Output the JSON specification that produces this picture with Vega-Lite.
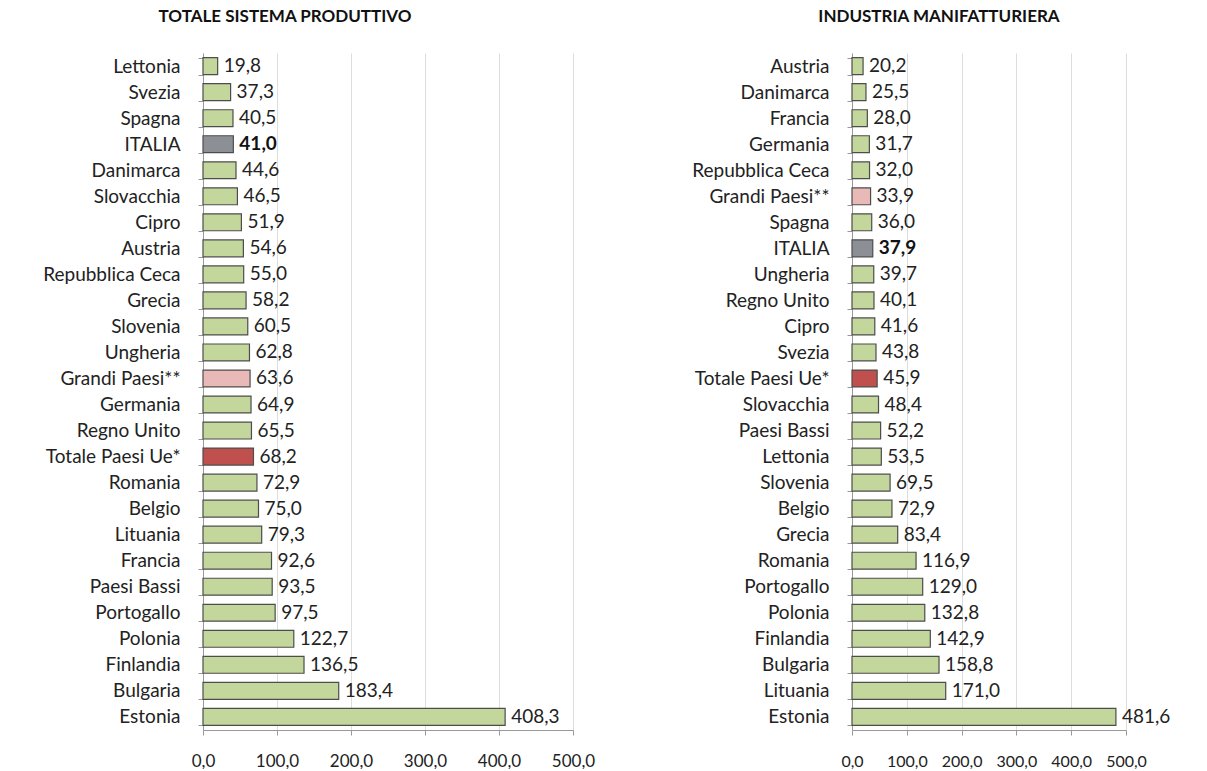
{
  "$schema": "https://vega.github.io/schema/vega-lite/v6.json",
  "background": "white",
  "padding": {"left": 8, "top": 8, "right": 5, "bottom": 0},
  "config": {
    "locale": {"number": {"decimal": ",", "thousands": ".", "grouping": [3], "currency": ["€", ""]}},
    "font": "Lato",
    "view": {"stroke": null},
    "concat": {"spacing": 62}
  },
  "datasets": {
    "tot": [
      {"paese": "Lettonia", "v": 19.8, "tipo": "paese"},
      {"paese": "Svezia", "v": 37.3, "tipo": "paese"},
      {"paese": "Spagna", "v": 40.5, "tipo": "paese"},
      {"paese": "ITALIA", "v": 41.0, "tipo": "italia"},
      {"paese": "Danimarca", "v": 44.6, "tipo": "paese"},
      {"paese": "Slovacchia", "v": 46.5, "tipo": "paese"},
      {"paese": "Cipro", "v": 51.9, "tipo": "paese"},
      {"paese": "Austria", "v": 54.6, "tipo": "paese"},
      {"paese": "Repubblica Ceca", "v": 55.0, "tipo": "paese"},
      {"paese": "Grecia", "v": 58.2, "tipo": "paese"},
      {"paese": "Slovenia", "v": 60.5, "tipo": "paese"},
      {"paese": "Ungheria", "v": 62.8, "tipo": "paese"},
      {"paese": "Grandi Paesi**", "v": 63.6, "tipo": "grandi"},
      {"paese": "Germania", "v": 64.9, "tipo": "paese"},
      {"paese": "Regno Unito", "v": 65.5, "tipo": "paese"},
      {"paese": "Totale Paesi Ue*", "v": 68.2, "tipo": "ue"},
      {"paese": "Romania", "v": 72.9, "tipo": "paese"},
      {"paese": "Belgio", "v": 75.0, "tipo": "paese"},
      {"paese": "Lituania", "v": 79.3, "tipo": "paese"},
      {"paese": "Francia", "v": 92.6, "tipo": "paese"},
      {"paese": "Paesi Bassi", "v": 93.5, "tipo": "paese"},
      {"paese": "Portogallo", "v": 97.5, "tipo": "paese"},
      {"paese": "Polonia", "v": 122.7, "tipo": "paese"},
      {"paese": "Finlandia", "v": 136.5, "tipo": "paese"},
      {"paese": "Bulgaria", "v": 183.4, "tipo": "paese"},
      {"paese": "Estonia", "v": 408.3, "tipo": "paese"}
    ],
    "man": [
      {"paese": "Austria", "v": 20.2, "tipo": "paese"},
      {"paese": "Danimarca", "v": 25.5, "tipo": "paese"},
      {"paese": "Francia", "v": 28.0, "tipo": "paese"},
      {"paese": "Germania", "v": 31.7, "tipo": "paese"},
      {"paese": "Repubblica Ceca", "v": 32.0, "tipo": "paese"},
      {"paese": "Grandi Paesi**", "v": 33.9, "tipo": "grandi"},
      {"paese": "Spagna", "v": 36.0, "tipo": "paese"},
      {"paese": "ITALIA", "v": 37.9, "tipo": "italia"},
      {"paese": "Ungheria", "v": 39.7, "tipo": "paese"},
      {"paese": "Regno Unito", "v": 40.1, "tipo": "paese"},
      {"paese": "Cipro", "v": 41.6, "tipo": "paese"},
      {"paese": "Svezia", "v": 43.8, "tipo": "paese"},
      {"paese": "Totale Paesi Ue*", "v": 45.9, "tipo": "ue"},
      {"paese": "Slovacchia", "v": 48.4, "tipo": "paese"},
      {"paese": "Paesi Bassi", "v": 52.2, "tipo": "paese"},
      {"paese": "Lettonia", "v": 53.5, "tipo": "paese"},
      {"paese": "Slovenia", "v": 69.5, "tipo": "paese"},
      {"paese": "Belgio", "v": 72.9, "tipo": "paese"},
      {"paese": "Grecia", "v": 83.4, "tipo": "paese"},
      {"paese": "Romania", "v": 116.9, "tipo": "paese"},
      {"paese": "Portogallo", "v": 129.0, "tipo": "paese"},
      {"paese": "Polonia", "v": 132.8, "tipo": "paese"},
      {"paese": "Finlandia", "v": 142.9, "tipo": "paese"},
      {"paese": "Bulgaria", "v": 158.8, "tipo": "paese"},
      {"paese": "Lituania", "v": 171.0, "tipo": "paese"},
      {"paese": "Estonia", "v": 481.6, "tipo": "paese"}
    ]
  },
  "hconcat": [
    {
      "data": {"name": "tot"},
      "width": 370,
      "height": 677,
      "title": {"text": "TOTALE SISTEMA PRODUTTIVO", "fontSize": 17, "fontWeight": "bold", "font": "Lato", "color": "#111", "dx": -103, "offset": 18},
      "encoding": {
        "y": {"field": "paese", "type": "nominal", "sort": null,
          "scale": {"paddingInner": 0.35, "paddingOuter": 0.18},
          "axis": {"title": null, "labelFontSize": 19, "labelColor": "#222", "labelPadding": 18, "tickBand": "extent", "tickSize": 5, "tickColor": "#999", "domainColor": "#999", "minExtent": 195, "maxExtent": 195}},
        "x": {"field": "v", "type": "quantitative",
          "scale": {"domain": [0, 500], "nice": false},
          "axis": {"title": null, "values": [0, 100, 200, 300, 400, 500], "labelExpr": "replace(format(datum.value, '.1f'), '.', ',')", "labelFlush": false, "labelOverlap": false, "labelBound": false, "labelFontSize": 17, "labelColor": "#222", "labelPadding": 18, "tickSize": 5, "tickColor": "#999", "domainColor": "#999", "gridColor": "#ddd"}}
      },
      "layer": [
        {"mark": {"type": "bar", "stroke": "#4d4d4d", "strokeWidth": 1.2},
          "encoding": {"color": {"field": "tipo", "type": "nominal", "legend": null,
            "scale": {"domain": ["paese", "italia", "grandi", "ue"], "range": ["#c3d69b", "#8c9096", "#e9b9b8", "#c0504d"]}}}},
        {"transform": [{"filter": "datum.tipo !== 'italia'"}],
          "mark": {"type": "text", "align": "left", "dx": 6, "fontSize": 19, "color": "#222"},
          "encoding": {"text": {"field": "v", "type": "quantitative", "format": ".1f"}}},
        {"transform": [{"filter": "datum.tipo === 'italia'"}],
          "mark": {"type": "text", "align": "left", "dx": 6, "fontSize": 19, "fontWeight": "bold", "color": "#111"},
          "encoding": {"text": {"field": "v", "type": "quantitative", "format": ".1f"}}}
      ]
    },
    {
      "data": {"name": "man"},
      "width": 274,
      "height": 677,
      "title": {"text": "INDUSTRIA MANIFATTURIERA", "fontSize": 17, "fontWeight": "bold", "font": "Lato", "color": "#111", "dx": -50, "offset": 18},
      "encoding": {
        "y": {"field": "paese", "type": "nominal", "sort": null,
          "scale": {"paddingInner": 0.35, "paddingOuter": 0.18},
          "axis": {"title": null, "labelFontSize": 19, "labelColor": "#222", "labelPadding": 18, "tickBand": "extent", "tickSize": 5, "tickColor": "#999", "domainColor": "#999", "minExtent": 195, "maxExtent": 195}},
        "x": {"field": "v", "type": "quantitative",
          "scale": {"domain": [0, 500], "nice": false},
          "axis": {"title": null, "values": [0, 100, 200, 300, 400, 500], "labelExpr": "replace(format(datum.value, '.1f'), '.', ',')", "labelFlush": false, "labelOverlap": false, "labelBound": false, "labelFontSize": 16, "labelColor": "#222", "labelPadding": 18, "tickSize": 5, "tickColor": "#999", "domainColor": "#999", "gridColor": "#ddd"}}
      },
      "layer": [
        {"mark": {"type": "bar", "stroke": "#4d4d4d", "strokeWidth": 1.2},
          "encoding": {"color": {"field": "tipo", "type": "nominal", "legend": null,
            "scale": {"domain": ["paese", "italia", "grandi", "ue"], "range": ["#c3d69b", "#8c9096", "#e9b9b8", "#c0504d"]}}}},
        {"transform": [{"filter": "datum.tipo !== 'italia'"}],
          "mark": {"type": "text", "align": "left", "dx": 6, "fontSize": 19, "color": "#222"},
          "encoding": {"text": {"field": "v", "type": "quantitative", "format": ".1f"}}},
        {"transform": [{"filter": "datum.tipo === 'italia'"}],
          "mark": {"type": "text", "align": "left", "dx": 6, "fontSize": 19, "fontWeight": "bold", "color": "#111"},
          "encoding": {"text": {"field": "v", "type": "quantitative", "format": ".1f"}}}
      ]
    }
  ]
}
